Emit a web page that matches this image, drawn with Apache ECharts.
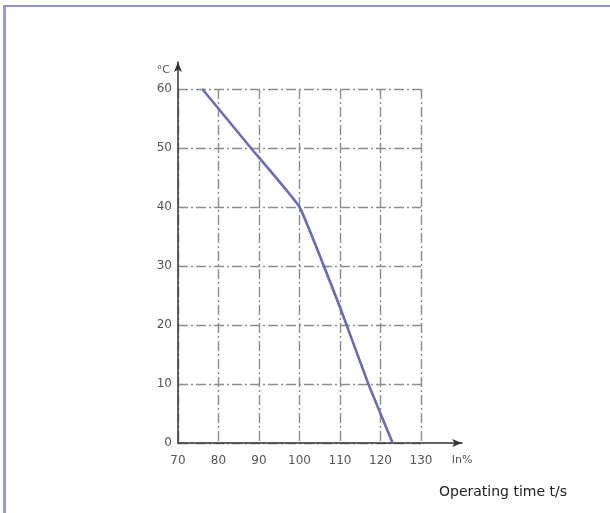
<!DOCTYPE html>
<html>
<head>
<meta charset="utf-8">
<script src="https://cdn.jsdelivr.net/npm/echarts@6/dist/echarts.min.js"></script>
<style>
  html, body { margin: 0; padding: 0; background: #fff; }
  #frame {
    position: absolute; left: 3px; top: 5px; right: 0; bottom: 0;
    border-top: 2px solid #9191c3;
    border-left: 3px solid #9a9acb;
  }
  #main { position: absolute; left: 0; top: 0; width: 610px; height: 513px; }
</style>
</head>
<body>
<div id="frame"></div>
<div id="main"></div>
<script>
// current in % of In  vs  ambient temperature
const currentPct = [76, 88, 100, 110, 117, 123];
const tempC = [60, 50, 40, 23, 10, 0];
const xTicks = [70, 130, 10];   // min, max, step
const yTicks = [0, 60, 10];

const chart = echarts.init(document.getElementById('main'), null, { renderer: 'canvas' });

const gridStyle = {
  color: '#8c8c8c',
  width: 1.4,
  type: [10, 3, 2, 3]
};
const labelStyle = {
  color: '#555',
  fontSize: 12,
  fontFamily: 'DejaVu Sans'
};

var option = {
  backgroundColor: 'transparent',
  animation: false,
  title: {
    text: 'Operating time t/s',
    left: 434,
    top: 480,
    textStyle: {
      color: '#222',
      fontSize: 14,
      fontWeight: 'normal',
      fontFamily: 'DejaVu Sans'
    }
  },
  grid: [
    // data grid
    { left: 178, top: 89, width: 243, height: 354 },
    // axis-line grid (arrows reach past the data area)
    { left: 178, top: 62, width: 284, height: 381 }
  ],
  xAxis: [{
    gridIndex: 0,
    type: 'value',
    min: xTicks[0],
    max: xTicks[1],
    interval: xTicks[2],
    axisLine: { show: false },
    axisTick: { show: false },
    axisLabel: Object.assign({ margin: 12 }, labelStyle),
    splitLine: { show: true, lineStyle: gridStyle }
  }, {
    gridIndex: 1,
    type: 'value',
    min: 70,
    max: 140,
    interval: 10,
    axisLine: {
      show: true,
      lineStyle: { color: '#333', width: 1.5 },
      symbol: ['none', 'arrow'],
      symbolSize: [6, 10]
    },
    axisTick: { show: false },
    axisLabel: Object.assign({
      margin: 12,
      formatter: function (v) { return v === 140 ? 'In%' : ''; }
    }, labelStyle, { fontSize: 11 }),
    splitLine: { show: false }
  }],
  yAxis: [{
    gridIndex: 0,
    type: 'value',
    min: yTicks[0],
    max: yTicks[1],
    interval: yTicks[2],
    axisLine: { show: false },
    axisTick: { show: false },
    axisLabel: Object.assign({ margin: 6 }, labelStyle),
    splitLine: { show: true, lineStyle: gridStyle }
  }, {
    gridIndex: 1,
    type: 'value',
    min: 0,
    max: 60,
    name: '°C',
    nameLocation: 'end',
    nameGap: -8,
    nameTextStyle: {
      color: '#555',
      fontSize: 11,
      fontFamily: 'DejaVu Sans',
      align: 'right',
      verticalAlign: 'middle',
      padding: [0, 8, 0, 0]
    },
    axisLine: {
      show: true,
      lineStyle: { color: '#333', width: 1.5 },
      symbol: ['none', 'arrow'],
      symbolSize: [6, 10]
    },
    axisTick: { show: false },
    axisLabel: { show: false },
    splitLine: { show: false }
  }],
  series: [{
    type: 'line',
    xAxisIndex: 0,
    yAxisIndex: 0,
    data: currentPct.map(function (x, i) { return [x, tempC[i]]; }),
    showSymbol: false,
    smooth: 0.1,
    lineStyle: { color: '#6c6cb0', width: 2.6 },
    z: 5
  }]
};

chart.setOption(option);
</script>
</body>
</html>
